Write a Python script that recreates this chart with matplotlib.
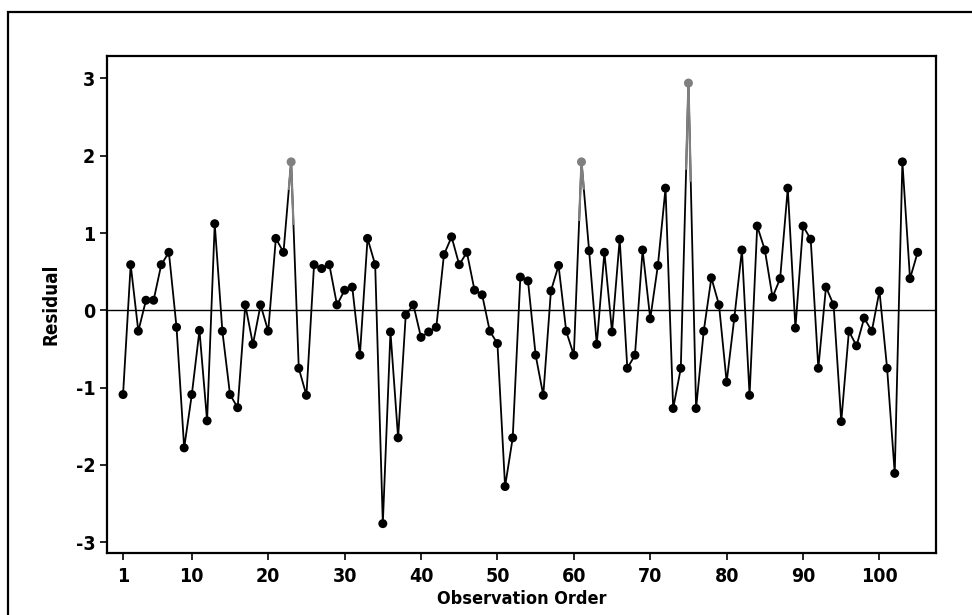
import matplotlib
matplotlib.use("Agg")
import matplotlib.pyplot as plt
import numpy as np
from matplotlib.patches import Rectangle

# Data
observation = list(range(1, 106))
residual = [
    -1.09, 0.59, -0.27, 0.13, 0.13, 0.59, 0.75, -0.22, -1.78, -1.09,
    -0.26, -1.43, 1.12, -0.27, -1.09, -1.26, 0.07, -0.44, 0.07, -0.27,
    0.93, 0.75, 1.92, -0.75, -1.10, 0.59, 0.54, 0.59, 0.07, 0.26,
    0.30, -0.58, 0.93, 0.59, -2.76, -0.28, -1.65, -0.06, 0.07, -0.35,
    -0.28, -0.22, 0.72, 0.95, 0.59, 0.75, 0.26, 0.20, -0.27, -0.43,
    -2.28, -1.65, 0.43, 0.38, -0.58, -1.10, 0.25, 0.58, -0.27, -0.58,
    1.92, 0.77, -0.44, 0.75, -0.28, 0.92, -0.75, -0.58, 0.78, -0.11,
    0.58, 1.58, -1.27, -0.75, 2.94, -1.27, -0.27, 0.42, 0.07, -0.93,
    -0.10, 0.78, -1.10, 1.09, 0.78, 0.17, 0.41, 1.58, -0.23, 1.09,
    0.92, -0.75, 0.30, 0.07, -1.44, -0.27, -0.46, -0.10, -0.27, 0.25,
    -0.75, -2.11, 1.92, 0.41, 0.75,
]
flagged = [23, 61, 75]
x_ticks = [1, 10, 20, 30, 40, 50, 60, 70, 80, 90, 100]
y_ticks = [-3, -2, -1, 0, 1, 2, 3]

plt.rcParams["axes.unicode_minus"] = False

W, H = 972, 615
fig = plt.figure(figsize=(W / 100, H / 100), dpi=100)
fam = ["DejaVu Sans"]

# outer scanned frame
fig.patches.append(Rectangle((8 / W, -0.1), 1.2, 1 - 12 / H + 0.1,
                             transform=fig.transFigure, fill=False,
                             edgecolor="black", linewidth=1.6))

ax = fig.add_axes([107 / W, 1 - 553 / H, (936 - 107) / W, (553 - 56) / H])
x = np.array(observation)
y = np.array(residual)

ax.axhline(0, color="black", linewidth=1.0, zorder=1)
ax.plot(x, y, color="black", linewidth=1.3, zorder=2)

# gray highlight for flagged points
for f in flagged:
    i = observation.index(f)
    for j in (i - 1, i + 1):
        if 0 <= j < len(x):
            xs = [x[i], x[i] + 0.3 * (x[j] - x[i])]
            ys = [y[i], y[i] + 0.3 * (y[j] - y[i])]
            ax.plot(xs, ys, color="#808080", linewidth=1.6, zorder=3)

colors = ["#808080" if o in flagged else "black" for o in observation]
ax.scatter(x, y, s=42, c=colors, zorder=4, linewidths=0)

ax.set_xlim(-1.1, 107.4)
ax.set_ylim(-3.14, 3.29)
ax.set_xticks(x_ticks)
ax.set_yticks(y_ticks)
ax.tick_params(direction="out", length=5, width=1.2, labelsize=14)
ax.tick_params(axis="x", pad=5)
for lab in ax.get_xticklabels():
    lab.set_family(fam)
    lab.set_fontweight("bold")
    lab.set_fontstretch("condensed")
for lab in ax.get_yticklabels():
    lab.set_family(fam)
    lab.set_fontweight("semibold")
    lab.set_fontstretch("condensed")
for s in ax.spines.values():
    s.set_linewidth(1.6)

ax.set_xlabel("Observation Order", fontsize=13, fontweight="bold",
              family=fam, fontstretch="condensed", labelpad=3)
ax.set_ylabel("Residual", fontsize=13.5, fontweight="bold", family=fam,
              fontstretch="condensed", labelpad=11)

fig.savefig("out.png", dpi=100)
